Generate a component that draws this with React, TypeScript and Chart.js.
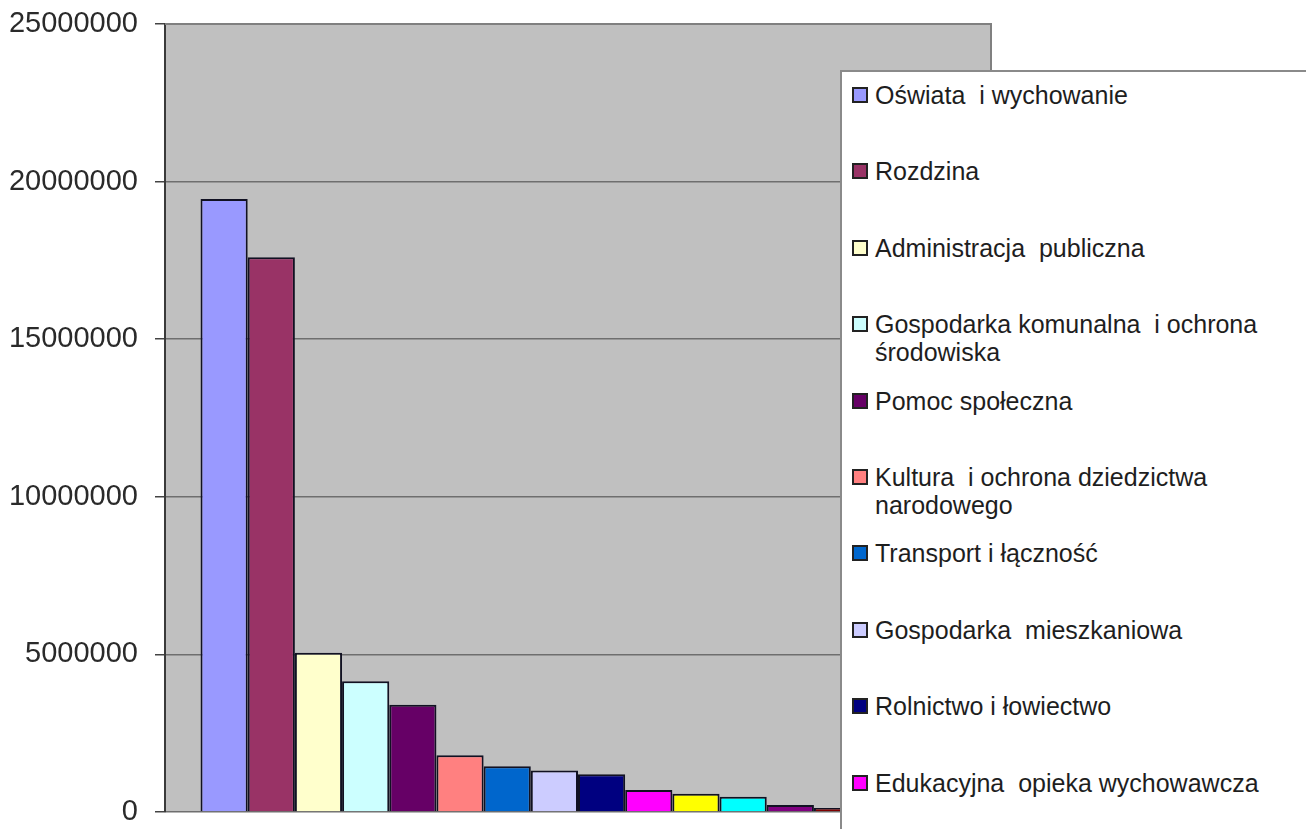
import React, { useEffect, useRef } from "react";
import { Chart, registerables } from "chart.js";

Chart.register(...registerables);

const seriesLabels: string[] = [
  "Oświata  i wychowanie",
  "Rozdzina",
  "Administracja  publiczna",
  "Gospodarka komunalna  i ochrona środowiska",
  "Pomoc społeczna",
  "Kultura  i ochrona dziedzictwa narodowego",
  "Transport i łączność",
  "Gospodarka  mieszkaniowa",
  "Rolnictwo i łowiectwo",
  "Edukacyjna  opieka wychowawcza",
  "Bezpieczeństwo publiczne i ochrona przeciwpożarowa",
  "Kultura fizyczna i sport",
  "Ochrona zdrowia",
  "Działalność usługowa",
  "Turystyka",
  "Różne rozliczenia",
];

const seriesValues: number[] = [
  19450000, 17600000, 5050000, 4150000, 3400000, 1800000, 1450000, 1320000,
  1200000, 700000, 580000, 480000, 220000, 130000, 80000, 40000,
];

const seriesColors: string[] = [
  "#9999FF", "#993366", "#FFFFCC", "#CCFFFF", "#660066", "#FF8080",
  "#0066CC", "#CCCCFF", "#000080", "#FF00FF", "#FFFF00", "#00FFFF",
  "#800080", "#800000", "#008080", "#0000FF",
];

const yTicks: number[] = [0, 5000000, 10000000, 15000000, 20000000, 25000000];

const FONT = '"Liberation Sans", Arial, sans-serif';

const plotBg = {
  id: "plotBg",
  beforeDraw(chart: any) {
    const { ctx, chartArea } = chart;
    ctx.save();
    ctx.fillStyle = "#C0C0C0";
    ctx.fillRect(chartArea.left, chartArea.top, chartArea.right - chartArea.left, chartArea.bottom - chartArea.top);
    ctx.restore();
  },
  afterDraw(chart: any) {
    const { ctx, chartArea } = chart;
    ctx.save();
    ctx.strokeStyle = "#808080";
    ctx.lineWidth = 2;
    ctx.beginPath();
    ctx.moveTo(chartArea.left, chartArea.top);
    ctx.lineTo(chartArea.right, chartArea.top);
    ctx.lineTo(chartArea.right, chartArea.bottom);
    ctx.stroke();
    ctx.restore();
  },
};

export default function App() {
  const canvasRef = useRef<HTMLCanvasElement | null>(null);

  useEffect(() => {
    if (!canvasRef.current) return;
    const chart = new Chart(canvasRef.current, {
      type: "bar",
      data: {
        labels: [""],
        datasets: seriesLabels.map((label, i) => ({
          label,
          data: [seriesValues[i]],
          backgroundColor: seriesColors[i],
          borderColor: "#111122",
          borderWidth: 2,
          categoryPercentage: 0.914,
          barPercentage: 1,
        })),
      },
      options: {
        responsive: false,
        animation: false,
        devicePixelRatio: 1,
        layout: { padding: { top: 24, right: 315, bottom: 17, left: 0 } },
        plugins: { legend: { display: false }, tooltip: { enabled: false } },
        scales: {
          x: { display: false },
          y: {
            min: 0,
            max: 25000000,
            afterFit: (scale: any) => {
              scale.width = 165;
              scale.paddingTop = 0;
              scale.paddingBottom = 0;
            },
            afterBuildTicks: (scale: any) => {
              scale.ticks = yTicks.map((v) => ({ value: v }));
            },
            ticks: {
              callback: (v: any) => String(v),
              font: { family: FONT, size: 29 },
              color: "#2a2a2a",
              padding: 17,
            },
            grid: {
              color: "#6e6e6e",
              lineWidth: 1.5,
              tickLength: 10,
              tickColor: "#444",
              drawTicks: true,
            },
            border: { display: true, color: "#3a3a3a", width: 2 },
          },
        },
      },
      plugins: [plotBg],
    });
    return () => chart.destroy();
  }, []);

  return (
    <div style={{ position: "fixed", left: 0, top: 0, width: 1306, height: 829, overflow: "hidden", background: "#fff" }}>
      <canvas ref={canvasRef} width={1306} height={829} style={{ position: "absolute", left: 0, top: 0 }} />
      <div
        style={{
          position: "absolute",
          left: 840,
          top: 70,
          width: 500,
          height: 900,
          background: "#fff",
          borderTop: "2px solid #8a8a8a",
          borderLeft: "2px solid #8a8a8a",
          fontFamily: FONT,
          fontSize: 25,
          color: "#1e1e1e",
        }}
      >
        {seriesLabels.map((label, i) => (
          <div key={i} style={{ position: "absolute", left: 10, top: 9 + i * 76.4, display: "flex", alignItems: "flex-start" }}>
            <div
              style={{
                width: 12,
                height: 12,
                marginTop: 6,
                border: "2px solid #222",
                background: seriesColors[i],
                flex: "none",
              }}
            />
            <div style={{ marginLeft: 7, width: 415, lineHeight: "28px", whiteSpace: "pre-wrap" }}>{label}</div>
          </div>
        ))}
      </div>
    </div>
  );
}
